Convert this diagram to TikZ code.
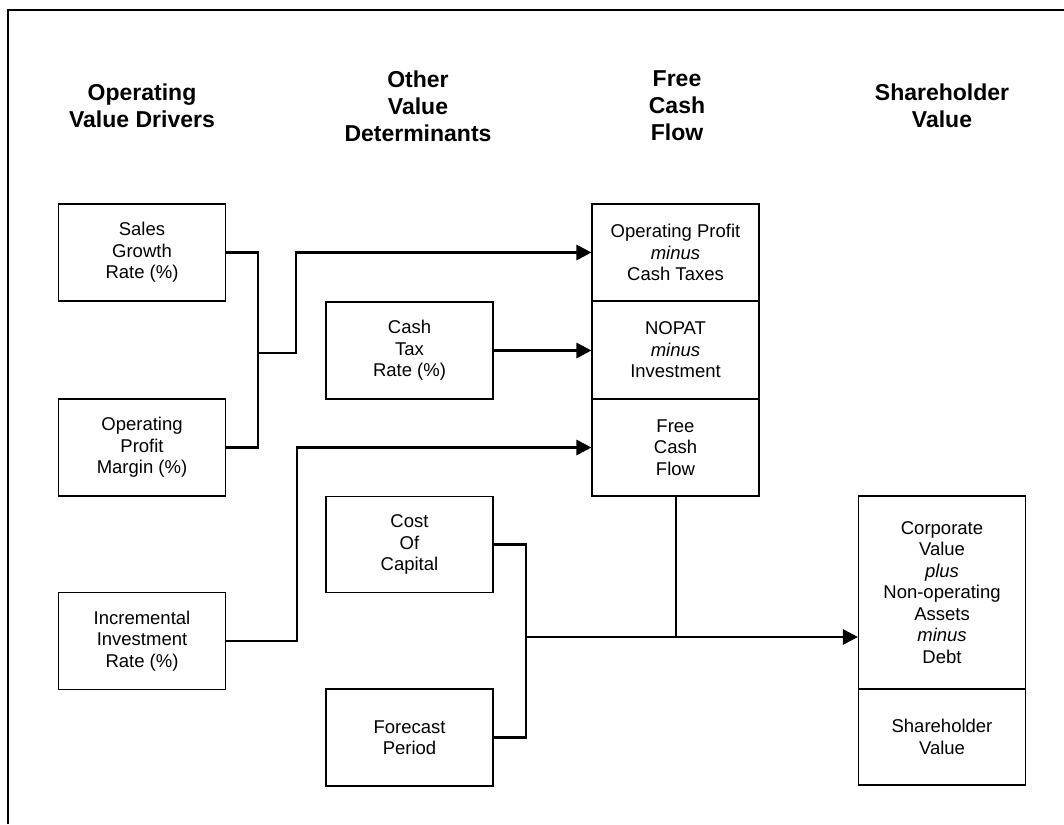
\documentclass[tikz,border=0pt]{standalone}
\usepackage{fontspec}
\setmainfont{Liberation Sans}
\usetikzlibrary{arrows.meta}
\begin{document}
\begin{tikzpicture}[x=1pt,y=-1pt,
  box/.style={draw, line width=1.1pt, inner sep=0pt, align=center,
    font=\fontsize{18.5}{21.5}\selectfont, minimum width=167pt},
  hdr/.style={align=center, font=\fontsize{23}{27}\selectfont\bfseries},
  thickln/.style={line width=2.8pt, line join=miter},
  arr/.style={thickln, -{Triangle[length=15pt,width=15pt]}},
  medln/.style={line width=2pt}]
\useasboundingbox (0,0) rectangle (1064,824);
\draw[line width=1.3pt] (8,824) -- (8,10) -- (1064,10);

% headers
\node[hdr] (h1) at (142,106) {Operating\\Value Drivers};
\node[hdr] (h2) at (418,106) {Other\\Value\\Determinants};
\node[hdr] (h3) at (677,106) {Free\\Cash\\Flow};
\node[hdr] (h4) at (942,106) {Shareholder\\Value};

% left column
\node[box, minimum height=97pt] (sales) at (142,252.5) {Sales\\Growth\\Rate (\%)};
\node[box, minimum height=97pt] (margin) at (142,447.5) {Operating\\Profit\\Margin (\%)};
\node[box, minimum height=97pt] (inc) at (142,641) {Incremental\\Investment\\Rate (\%)};

% middle column
\node[box, minimum height=97pt] (tax) at (409.5,350.5) {Cash\\Tax\\Rate (\%)};
\node[box, minimum height=96pt] (cost) at (409.5,544.5) {Cost\\Of\\Capital};
\node[box, minimum height=97pt] (fc) at (409.5,737.5) {Forecast\\Period};

% free cash flow column
\node[box, minimum height=97pt] (op) at (675.5,252.5) {Operating Profit\\\textit{minus}\\Cash Taxes};
\node[box, minimum height=98pt] (nopat) at (675.5,350) {NOPAT\\\textit{minus}\\Investment};
\node[box, minimum height=97pt] (fcf) at (675.5,447.5) {Free\\Cash\\Flow};

% shareholder value column
\node[box, minimum height=193pt] (corp) at (942,592.5) {Corporate\\Value\\\textit{plus}\\Non-operating\\Assets\\\textit{minus}\\Debt};
\node[box, minimum height=96pt] (shv) at (942,737) {Shareholder\\Value};

% connectors
\coordinate (b1) at (258,353);
\coordinate (k1) at (296,353);
\draw[thickln] (sales.east) -| (b1) |- (margin.east);
\draw[arr] (b1) -- (k1) |- (op.west);

\draw[arr] (tax.east) -- (tax.east -| nopat.west);

\coordinate (b2) at (297,641);
\draw[arr] (inc.east) -- (b2) |- (fcf.west);

\coordinate (b3) at (526,637);
\draw[thickln] (cost.east) -| (b3) |- (fc.east);
\draw[medln] (fcf.south) -- (fcf.south |- b3);
\draw[arr] (b3) -- (b3 -| corp.west);
\end{tikzpicture}
\end{document}
